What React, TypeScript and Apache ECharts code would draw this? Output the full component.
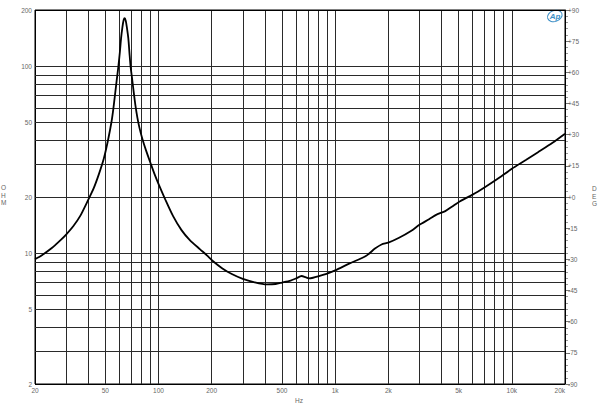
import React, { useEffect, useRef } from "react";
import * as echarts from "echarts";

const freqHz = [
  20, 22, 25, 28, 30, 33, 36, 40, 43, 46, 49, 52, 54.3, 55.5, 56.7, 58, 59.3, 60.5, 61.4, 62.5,
  63.5, 64.4, 65.3, 66.2, 67.5, 68.5, 69.5, 71, 72.5, 74, 76, 78, 81, 85, 90, 95, 100, 109, 121,
  135, 150, 172, 188, 203, 230, 260, 300, 350, 410, 460, 500, 560, 600, 646, 680, 710, 750, 800,
  900, 1000, 1200, 1500, 1680, 1830, 2000, 2300, 2700, 3000, 3400, 3750, 4200, 4600, 5100, 6000,
  7000, 8200, 10000, 12000, 14000, 17000, 20000,
];
const impedanceOhm = [
  9.3, 9.8, 10.7, 11.8, 12.6, 14.0, 15.8, 19.3, 22.3, 26.5, 32, 41, 51, 59, 70, 84, 100, 120, 141,
  162, 177, 181, 175, 162, 141, 118, 100, 85, 72, 62, 53, 47, 41, 35.5, 30.5, 26.5, 23.5, 19.5,
  15.8, 13.3, 11.8, 10.5, 9.75, 9.1, 8.3, 7.75, 7.3, 7.0, 6.82, 6.85, 6.97, 7.15, 7.33, 7.56, 7.45,
  7.35, 7.4, 7.52, 7.78, 8.1, 8.8, 9.7, 10.6, 11.15, 11.4, 12.1, 13.2, 14.2, 15.2, 16.1, 16.8,
  17.8, 19.0, 20.6, 22.5, 24.8, 28.3, 31.5, 34.6, 39, 43.6,
];

const xGridHz = [
  30, 40, 50, 60, 70, 80, 90, 100, 200, 300, 400, 500, 600, 700, 800, 900, 1000, 2000, 3000, 4000,
  5000, 6000, 7000, 8000, 9000, 10000,
];
const xLabelHz = [20, 50, 100, 200, 500, 1000, 2000, 5000, 10000, 20000];
const xLabelText = ["20", "50", "100", "200", "500", "1k", "2k", "5k", "10k", "20k"];

const yGridOhm = [3, 4, 5, 6, 7, 8, 9, 10, 20, 30, 40, 50, 60, 70, 80, 90, 100];
const yLabelOhm = [2, 5, 10, 20, 50, 100, 200];
const yLabelText = ["2", "5", "10", "20", "50", "100", "200"];

const phaseMin = -90;
const phaseMax = 90;
const phaseStep = 15;

const LABEL_COLOR = "#666";
const GRID_COLOR = "#2a2a2a";
const FONT = "Liberation Sans, Arial, sans-serif";

export default function App() {
  const ref = useRef<HTMLDivElement>(null);

  useEffect(() => {
    if (!ref.current) return;
    const chart = echarts.init(ref.current, undefined, { renderer: "svg" });

    const labelStyle = {
      show: true,
      position: "start" as const,
      distance: 3,
      fontSize: 6.5,
      color: LABEL_COLOR,
      fontFamily: FONT,
    };

    const xLines: any[] = [];
    const allX = Array.from(new Set([...xGridHz, ...xLabelHz])).sort((a, b) => a - b);
    allX.forEach((v, idx) => {
      const li = xLabelHz.indexOf(v);
      const isGrid = xGridHz.indexOf(v) >= 0;
      const isLast = idx === allX.length - 1;
      xLines.push({
        xAxis: v,
        lineStyle: { color: isGrid ? GRID_COLOR : "#000", width: 1, type: "solid" },
        label:
          li >= 0
            ? { ...labelStyle, formatter: xLabelText[li], ...(isLast ? { align: "right" } : {}) }
            : { show: false },
      });
    });

    const yLines: any[] = [];
    const allY = Array.from(new Set([...yGridOhm, ...yLabelOhm])).sort((a, b) => a - b);
    allY.forEach((v) => {
      const li = yLabelOhm.indexOf(v);
      const isGrid = yGridOhm.indexOf(v) >= 0;
      yLines.push({
        yAxis: v,
        lineStyle: { color: isGrid ? GRID_COLOR : "#000", width: 1, type: "solid" },
        label: li >= 0 ? { ...labelStyle, formatter: yLabelText[li] } : { show: false },
      });
    });

    chart.setOption({
      animation: false,
      backgroundColor: "#fff",
      grid: {
        left: 35,
        right: 35,
        top: 10,
        bottom: 31,
        show: true,
        borderColor: "#000",
        borderWidth: 1,
        backgroundColor: "#fff",
      },
      xAxis: {
        type: "log",
        logBase: 10,
        min: 20,
        max: 20000,
        axisLine: { show: false },
        axisTick: { show: false },
        axisLabel: { show: false },
        splitLine: { show: false },
      },
      yAxis: [
        {
          type: "log",
          logBase: 10,
          min: 2,
          max: 200,
          axisLine: { show: false },
          axisTick: { show: false },
          axisLabel: { show: false },
          splitLine: { show: false },
        },
        {
          type: "value",
          position: "right",
          min: phaseMin,
          max: phaseMax,
          interval: phaseStep,
          axisLine: { show: true, lineStyle: { color: "#000", width: 1 } },
          axisTick: { show: true, length: 5, lineStyle: { color: "#777" } },
          minorTick: { show: true, splitNumber: 5, length: 3, lineStyle: { color: "#999" } },
          axisLabel: {
            margin: 3,
            fontSize: 6.5,
            color: LABEL_COLOR,
            fontFamily: FONT,
            formatter: (v: number) => (Number(v) >= 0 ? "+" + Number(v) : String(v)),
          },
          splitLine: { show: false },
        },
      ],
      series: [
        {
          type: "line",
          xAxisIndex: 0,
          yAxisIndex: 0,
          data: freqHz.map((f, i) => [f, impedanceOhm[i]]),
          showSymbol: false,
          smooth: 0.25,
          lineStyle: { color: "#000", width: 1.8 },
          z: 5,
          markLine: {
            silent: true,
            symbol: "none",
            animation: false,
            data: [...xLines, ...yLines],
            z: 1,
          },
        },
      ],
      graphic: [
        {
          type: "text",
          left: 1,
          top: 184,
          style: {
            text: "O\nH\nM",
            fontSize: 6.5,
            lineHeight: 7.5,
            fill: LABEL_COLOR,
            fontFamily: FONT,
            align: "center",
          },
        },
        {
          type: "text",
          left: 592,
          top: 185,
          style: {
            text: "D\nE\nG",
            fontSize: 6.5,
            lineHeight: 7.5,
            fill: LABEL_COLOR,
            fontFamily: FONT,
            align: "center",
          },
        },
        {
          type: "text",
          left: 295,
          top: 397,
          style: { text: "Hz", fontSize: 6.5, fill: LABEL_COLOR, fontFamily: FONT },
        },
        {
          type: "ellipse",
          shape: { cx: 555, cy: 16, rx: 7.5, ry: 5.5 },
          rotation: 0.35,
          originX: 555,
          originY: 16,
          style: { fill: "none", stroke: "#3d8fc6", lineWidth: 1 },
        },
        {
          type: "text",
          x: 555,
          y: 16,
          style: {
            text: "Ap",
            fontSize: 8,
            fontStyle: "italic",
            fontWeight: "bold",
            fill: "#3d8fc6",
            fontFamily: FONT,
            align: "center",
            verticalAlign: "middle",
          },
        },
      ],
    });

    return () => chart.dispose();
  }, []);

  return (
    <div
      ref={ref}
      style={{ position: "fixed", left: 0, top: 0, width: 600, height: 415, background: "#fff" }}
    />
  );
}
